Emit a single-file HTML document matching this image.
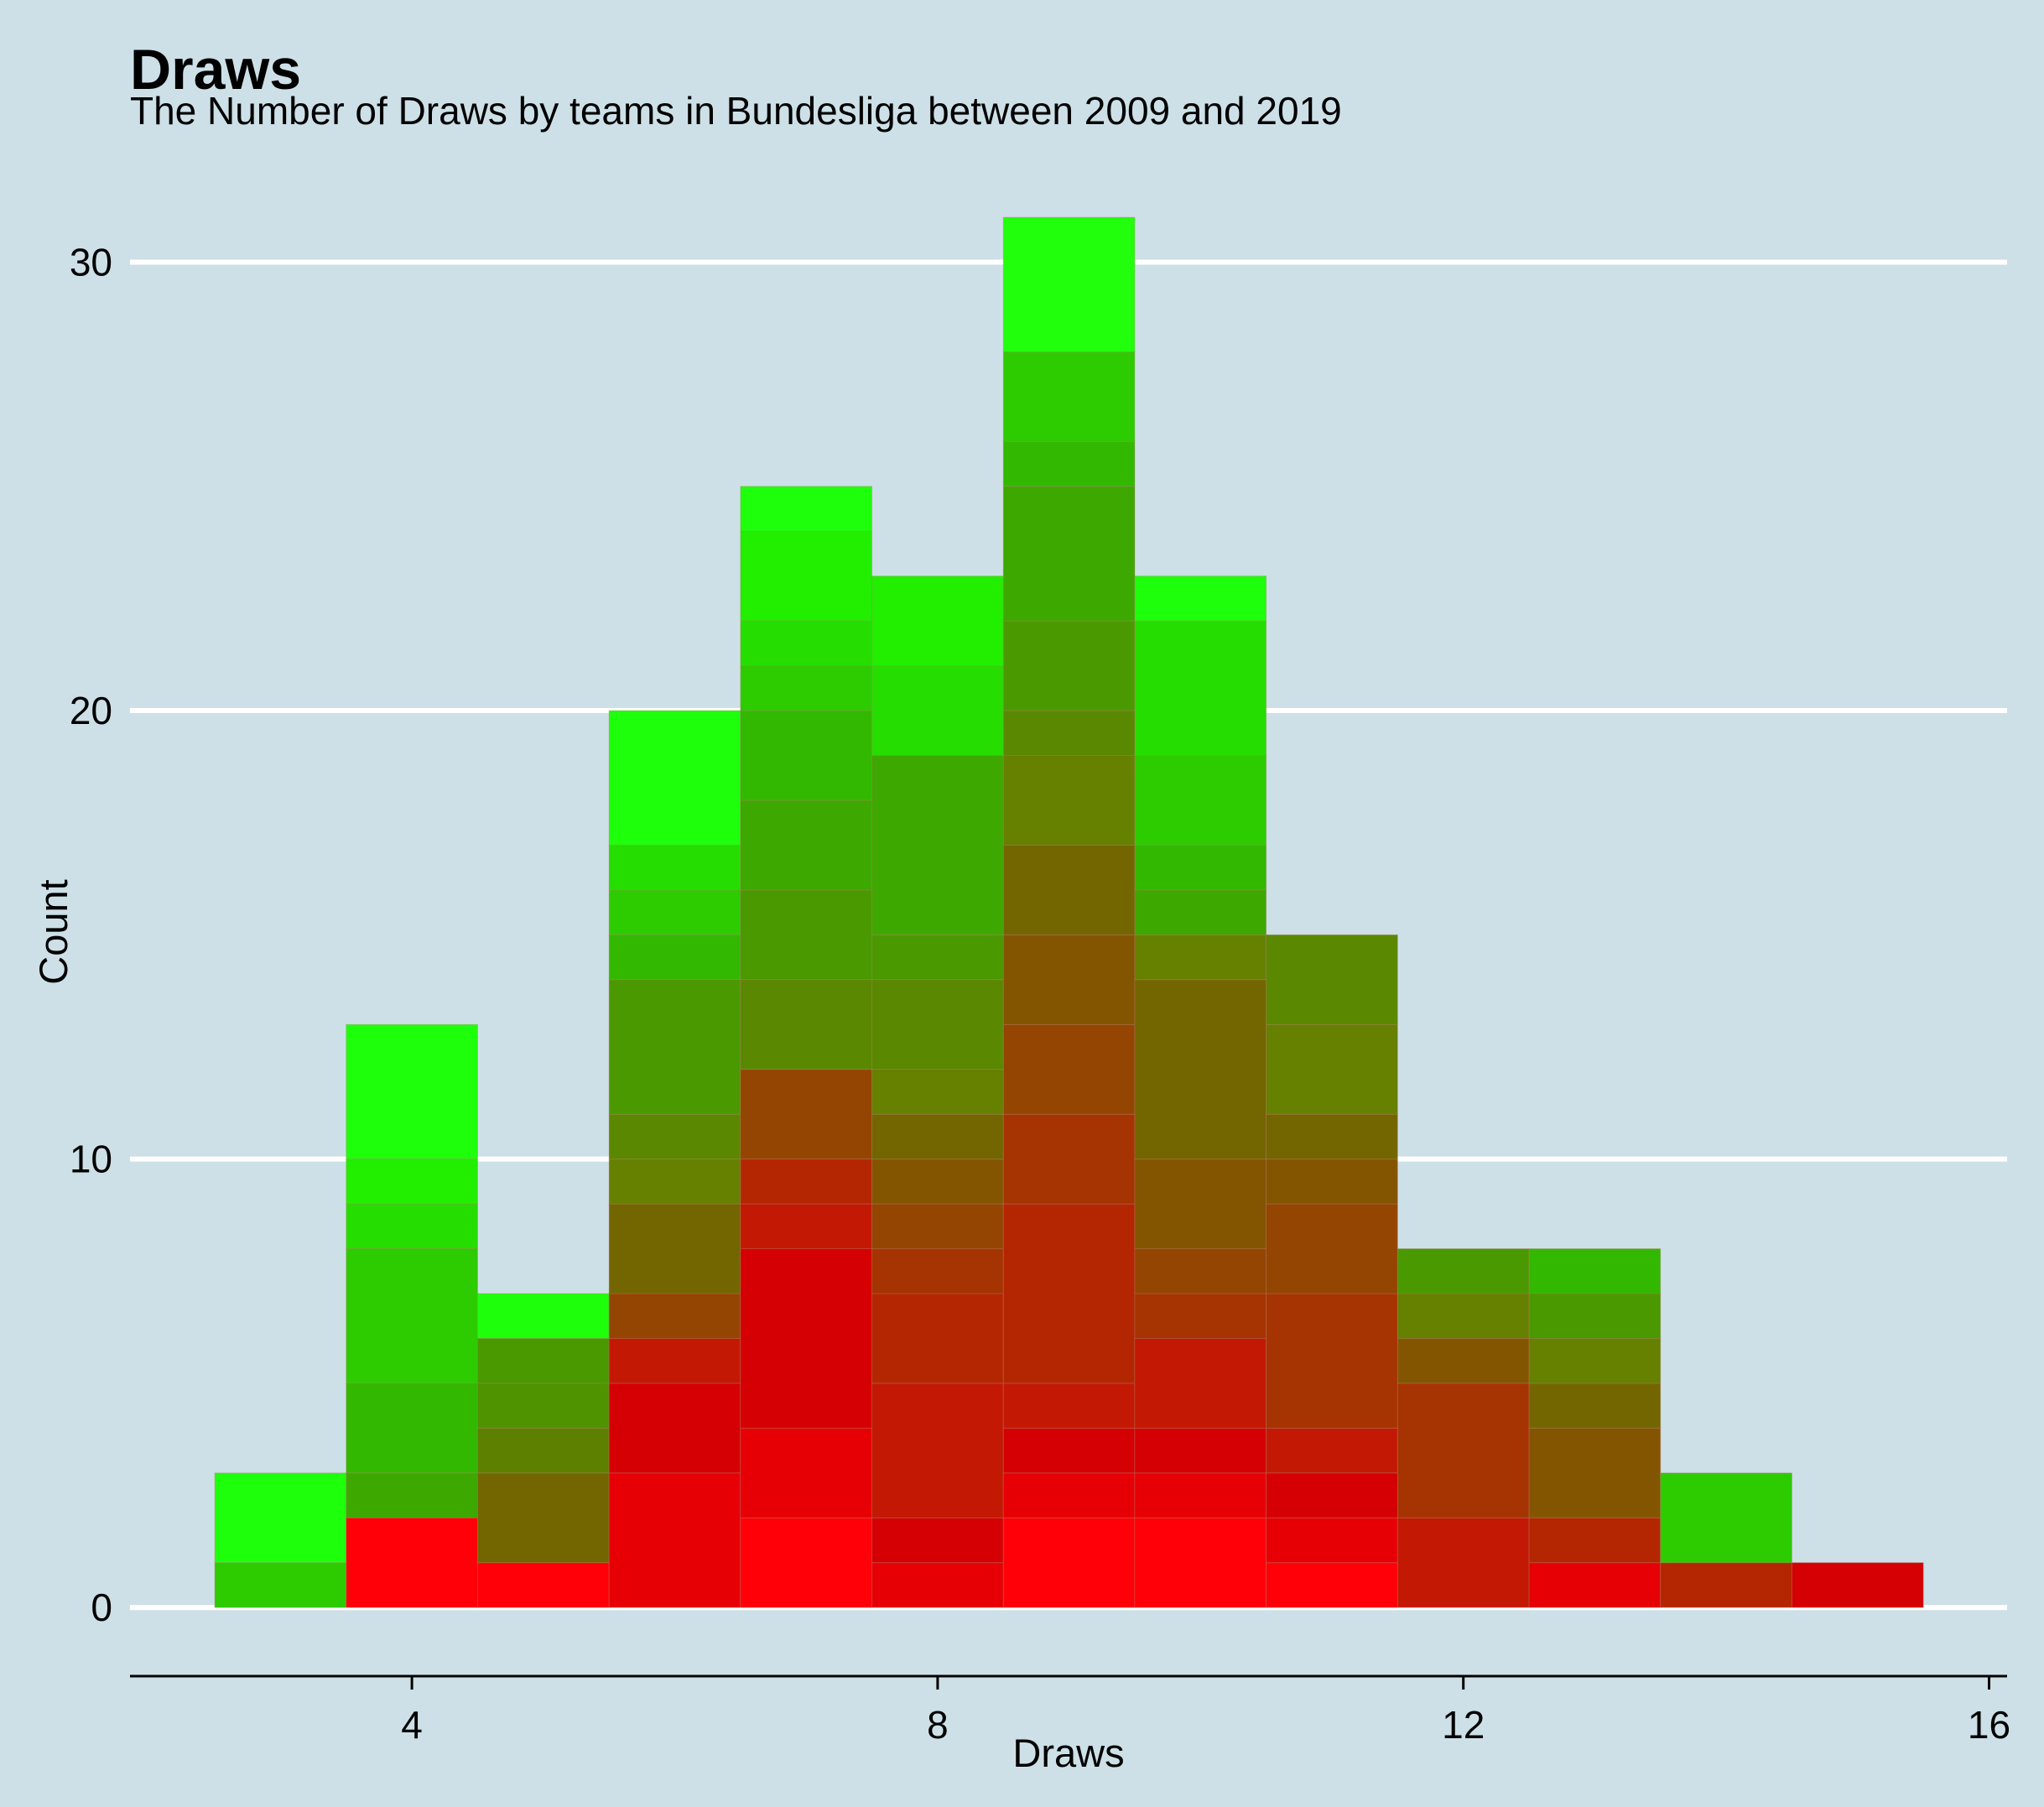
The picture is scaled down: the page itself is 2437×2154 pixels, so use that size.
<!DOCTYPE html>
<html><head><meta charset="utf-8"><style>
html,body{margin:0;padding:0;background:#cde0e7;}
svg{display:block;font-family:"Liberation Sans",Arial,sans-serif;}
</style></head><body>
<svg id="chart" width="2437" height="2154" viewBox="0 0 2437 2154" xmlns="http://www.w3.org/2000/svg">
<rect width="2437" height="2154" fill="#cde0e7"/>
<text x="155" y="106" font-size="68" font-weight="bold" fill="#000">Draws</text>
<text x="155" y="148" font-size="46" fill="#000">The Number of Draws by teams in Bundesliga between 2009 and 2019</text>
<g id="grid"></g>
<g id="bars"></g>
<g id="axes"></g>
<text x="1274" y="2106" font-size="47" text-anchor="middle">Draws</text>
<text transform="translate(80,1111) rotate(-90)" font-size="47" text-anchor="middle">Count</text>
</svg>
<script>
const categories = [3,4,5,6,7,8,9,10,11,12,13,14,15];
const segCounts = [
 [1,2],
 [2,1,2,3,1,1,3],
 [1,2,1,1,1,1],
 [3,2,1,1,2,1,1,3,1,1,1,3],
 [2,2,4,1,1,2,2,2,2,2,1,1,2,1],
 [1,1,3,2,1,1,1,1,1,2,1,4,2,2],
 [2,1,1,1,4,2,2,2,2,2,1,2,3,1,2,3],
 [2,1,1,2,1,1,2,4,1,1,1,2,3,1],
 [1,1,1,1,3,2,1,1,2,2],
 [2,3,1,1,1],
 [1,1,2,1,1,1,1],
 [1,2],
 [1]
];
const segColors = [
 ["#2ccc00","#1eff0c"],
 ["#ff0008","#3da800","#33b800","#2ccc00","#26dd00","#22ee00","#1eff0c"],
 ["#ff0008","#736600","#5e8000","#4f9400","#4a9900","#1eff0c"],
 ["#e60006","#d40003","#c31904","#944502","#736600","#668000","#5a8800","#4a9900","#33b800","#2ccc00","#26dd00","#1eff0c"],
 ["#ff0008","#e60006","#d40003","#c31904","#b42602","#944502","#5a8800","#4a9900","#3da800","#33b800","#2ccc00","#26dd00","#22ee00","#1eff0c"],
 ["#e60006","#d40003","#c31904","#b42602","#a53402","#944502","#845500","#736600","#668000","#5a8800","#4a9900","#3da800","#26dd00","#22ee00"],
 ["#ff0008","#e60006","#d40003","#c31904","#b42602","#a53402","#944502","#845500","#736600","#668000","#5a8800","#4a9900","#3da800","#33b800","#2ccc00","#22ff0c"],
 ["#ff0008","#e60006","#d40003","#c31904","#a53402","#944502","#845500","#736600","#668000","#3da800","#33b800","#2ccc00","#26dd00","#1eff0c"],
 ["#ff0008","#e60006","#d40003","#c31904","#a53402","#944502","#845500","#736600","#668000","#5a8800"],
 ["#c31904","#a53402","#845500","#668000","#4a9900"],
 ["#e60006","#b42602","#845500","#736600","#668000","#4a9900","#33b800"],
 ["#b42602","#2ccc00"],
 ["#d40003"]
];
const yTicks = [0,10,20,30];
const xTicks = [4,8,12,16];
const NS="http://www.w3.org/2000/svg";
const X = v => 491.1 + (v-4)*156.7;
const Y = v => 1916.2 - v*34.4*1.554;
function mk(tag, attrs, parent){const e=document.createElementNS(NS,tag);for(const k in attrs)e.setAttribute(k,attrs[k]);parent.appendChild(e);return e;}
const grid=document.getElementById('grid'),bars=document.getElementById('bars'),axes=document.getElementById('axes');
yTicks.forEach(t=>{
 const l=mk('line',{x1:155,x2:2393,y1:Y(t),y2:Y(t),stroke:'#fff','stroke-width':6},grid);
 
 
 const tx=mk('text',{x:134,y:Y(t)+16,'font-size':46,'text-anchor':'end'},axes);
 tx.textContent=t;
 
 
});
categories.forEach((c,i)=>{
 let cum=0;
 segCounts[i].forEach((n,j)=>{
  const r=mk('rect',{x:X(c-0.5),width:X(c+0.5)-X(c-0.5),y:Y(cum+n),height:Y(cum)-Y(cum+n),fill:segColors[i][j],stroke:'rgba(180,120,100,0.35)','stroke-width':1},bars);
  
  
  cum+=n;
 });
});
const ax=mk('line',{x1:155,x2:2393,y1:1998,y2:1998,stroke:'#000','stroke-width':3},axes);


xTicks.forEach(t=>{
 const tk=mk('line',{x1:X(t),x2:X(t),y1:1998,y2:2014,stroke:'#000','stroke-width':3},axes);
 
 
 const tx=mk('text',{x:X(t),y:2072,'font-size':46,'text-anchor':'middle'},axes);
 tx.textContent=t;
 
 
});
</script>
</body></html>
